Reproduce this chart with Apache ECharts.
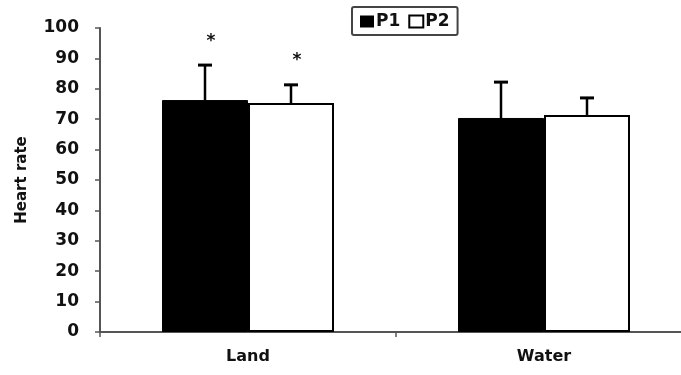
<!DOCTYPE html>
<html><head><meta charset="utf-8">
<script src="https://cdn.jsdelivr.net/npm/echarts@6/dist/echarts.min.js"></script>
<style>html,body{margin:0;padding:0;background:#fff;overflow:hidden;width:681px;height:375px}#c{width:700px;height:375px}</style>
</head><body><div id="c"></div>
<script>
var categories = ['Land', 'Water'];
var p1Values = [76.3, 70.4];
var p2Values = [75.3, 71.4];
var p1ErrTop = [87.8, 82.2];
var p2ErrTop = [81.3, 77.0];
var p1Stars = ['*', ''];
var p2Stars = ['*', ''];
var yTicks = [0, 10, 20, 30, 40, 50, 60, 70, 80, 90, 100];

var FONT = 'DejaVu Sans';
var chart = echarts.init(document.getElementById('c'), null, {renderer: 'canvas'});

function errSeries(values, errTop, stars, offsetIdx) {
  return {
    type: 'custom',
    z: 5,
    data: categories.map(function (c, i) { return [i, values[i], errTop[i], stars[i]]; }),
    renderItem: function (params, api) {
      var base = api.coord([api.value(0), api.value(1)]);
      var top = api.coord([api.value(0), api.value(2)]);
      var barW = 86;
      var x = base[0] + (offsetIdx === 0 ? -barW / 2 : barW / 2);
      var cap = 7;
      var children = [
        {type: 'line', shape: {x1: x, y1: base[1], x2: x, y2: top[1]}, style: {stroke: '#000', lineWidth: 2.5}},
        {type: 'line', shape: {x1: x - cap, y1: top[1], x2: x + cap, y2: top[1]}, style: {stroke: '#000', lineWidth: 3}}
      ];
      var s = stars[params.dataIndex];
      if (s) {
        children.push({type: 'text', style: {text: s, x: x + 6, y: top[1] - 24, textAlign: 'center', textVerticalAlign: 'middle', font: 'bold 17px ' + FONT, fill: '#111'}});
      }
      return {type: 'group', children: children};
    }
  };
}

chart.setOption({
  animation: false,
  backgroundColor: '#fff',
  legend: {
    left: 352, top: 7,
    padding: [6, 8, 5, 8],
    borderColor: '#444', borderWidth: 2, borderRadius: 2,
    itemWidth: 14, itemHeight: 12, itemGap: 8,
    icon: 'rect',
    textStyle: {fontFamily: FONT, fontSize: 17, fontWeight: 'bold', color: '#111', padding: [0, 0, 0, -3]},
    data: [
      {name: 'P1', itemStyle: {color: '#000', borderWidth: 0}},
      {name: 'P2', itemStyle: {color: '#fff', borderColor: '#000', borderWidth: 2}}
    ]
  },
  grid: {left: 100, top: 28, height: 304, right: 8, containLabel: false},
  xAxis: {
    type: 'category',
    data: categories,
    axisLine: {lineStyle: {color: '#555', width: 2}},
    axisTick: {show: true, length: 5, lineStyle: {color: '#555', width: 1.5}},
    axisLabel: {fontFamily: FONT, fontWeight: 'bold', fontSize: 16, color: '#111', margin: 17}
  },
  yAxis: {
    type: 'value', min: 0, max: 100, interval: 10,
    name: 'Heart rate', nameLocation: 'middle', nameGap: 70, nameRotate: 90,
    nameTextStyle: {fontFamily: FONT, fontWeight: 'bold', fontSize: 15, color: '#111'},
    axisLine: {show: true, lineStyle: {color: '#555', width: 2}},
    axisTick: {show: true, length: 5, lineStyle: {color: '#555', width: 1.5}},
    splitLine: {show: false},
    axisLabel: {fontFamily: FONT, fontWeight: 'bold', fontSize: 17, color: '#111', margin: 21,
      formatter: function (v) { return yTicks.indexOf(v) >= 0 ? String(v) : ''; }}
  },
  series: [
    {name: 'P1', type: 'bar', data: p1Values, barWidth: 86, barGap: '0%', z: 3,
      itemStyle: {color: '#000', borderColor: '#000', borderWidth: 1}},
    {name: 'P2', type: 'bar', data: p2Values, barWidth: 86, barGap: '0%', z: 2,
      itemStyle: {color: '#fff', borderColor: '#000', borderWidth: 2}},
    errSeries(p1Values, p1ErrTop, p1Stars, 0),
    errSeries(p2Values, p2ErrTop, p2Stars, 1)
  ]
});
</script></body></html>
